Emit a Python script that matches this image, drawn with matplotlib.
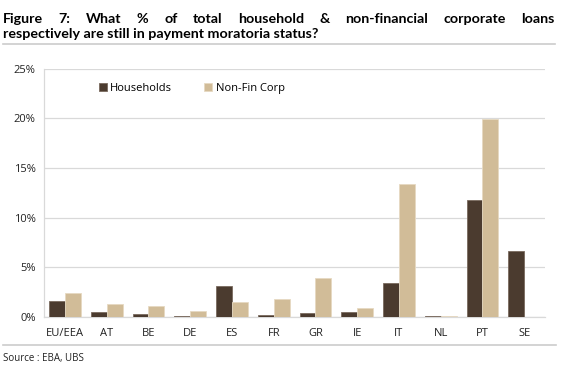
import numpy as np
import matplotlib.pyplot as plt
from matplotlib.lines import Line2D

plt.rcParams['font.family'] = ['Open Sans', 'DejaVu Sans']

countries = ['EU/EEA', 'AT', 'BE', 'DE', 'ES', 'FR', 'GR', 'IE', 'IT', 'NL', 'PT', 'SE']
households = [1.64, 0.5, 0.3, 0.05, 3.1, 0.2, 0.37, 0.45, 3.43, 0.05, 11.8, 6.6]
non_fin_corp = [2.39, 1.3, 1.15, 0.57, 1.55, 1.78, 3.93, 0.87, 13.4, 0.05, 19.9, 0.0]

title_line1 = 'Figure 7: What % of total household & non-financial corporate loans'
title_line2 = 'respectively are still in payment moratoria status?'

c_hh = '#4b3b2f'
c_nfc = '#d1bc98'

W, H = 572, 372
fig = plt.figure(figsize=(W / 100, H / 100), dpi=100)
ax = fig.add_axes([0.077, 0.148, 0.876, 0.667])

x = np.arange(len(countries))
w = 0.38
ax.bar(x - w/2, households, w, color=c_hh, edgecolor='#7a6a5e', linewidth=0.6, label='Households', zorder=3)
ax.bar(x + w/2, non_fin_corp, w, color=c_nfc, edgecolor='#e6d9c2', linewidth=0.6, label='Non-Fin Corp', zorder=3)

ax.set_xlim(-0.5, len(countries) - 0.5)
ax.set_ylim(0, 25)
ax.set_yticks(np.arange(0, 26, 5))
ax.set_yticklabels([f'{v}%' for v in range(0, 26, 5)])
ax.set_xticks(x)
ax.set_xticklabels(countries)
ax.tick_params(length=0, labelsize=8, colors='#222222', pad=8)
ax.tick_params(axis='y', pad=6)
ax.grid(axis='y', color='#d9d9d9', linewidth=0.9, zorder=0)
for s in ['top', 'right']:
    ax.spines[s].set_visible(False)
for s in ['left', 'bottom']:
    ax.spines[s].set_color('#d9d9d9')
    ax.spines[s].set_linewidth(0.9)

ax.legend(loc='upper left', bbox_to_anchor=(0.09, 0.985), ncol=2, frameon=False,
          fontsize=8, handlelength=0.7, handleheight=0.7, handletextpad=0.3,
          columnspacing=2.9)

# title: first line justified between x=3 and x=555 px
tfont = dict(fontsize=10.3, fontweight='bold', family=['Lato', 'DejaVu Sans'], va='baseline', ha='left')
r = fig.canvas.get_renderer()
words = title_line1.split(' ')
arts = [fig.text(0, 1 - 23 / H, wd, **tfont) for wd in words]
widths = [a.get_window_extent(r).width for a in arts]
gap = (552 - sum(widths)) / (len(words) - 1)
xpos = 3
for a, wdt in zip(arts, widths):
    a.set_x(xpos / W)
    xpos += wdt + gap
fig.text(3 / W, 1 - 38 / H, title_line2, **tfont)

fig.add_artist(Line2D([3 / W, 555 / W], [1 - 43.5 / H, 1 - 43.5 / H], color='#cccccc', linewidth=1.2))
fig.add_artist(Line2D([3 / W, 556 / W], [1 - 344.5 / H, 1 - 344.5 / H], color='#cccccc', linewidth=1.2))
fig.text(3 / W, 1 - 358 / H, 'Source : EBA, UBS', fontsize=7, va='center', ha='left', color='#222222')

fig.savefig('out.png', dpi=100)
